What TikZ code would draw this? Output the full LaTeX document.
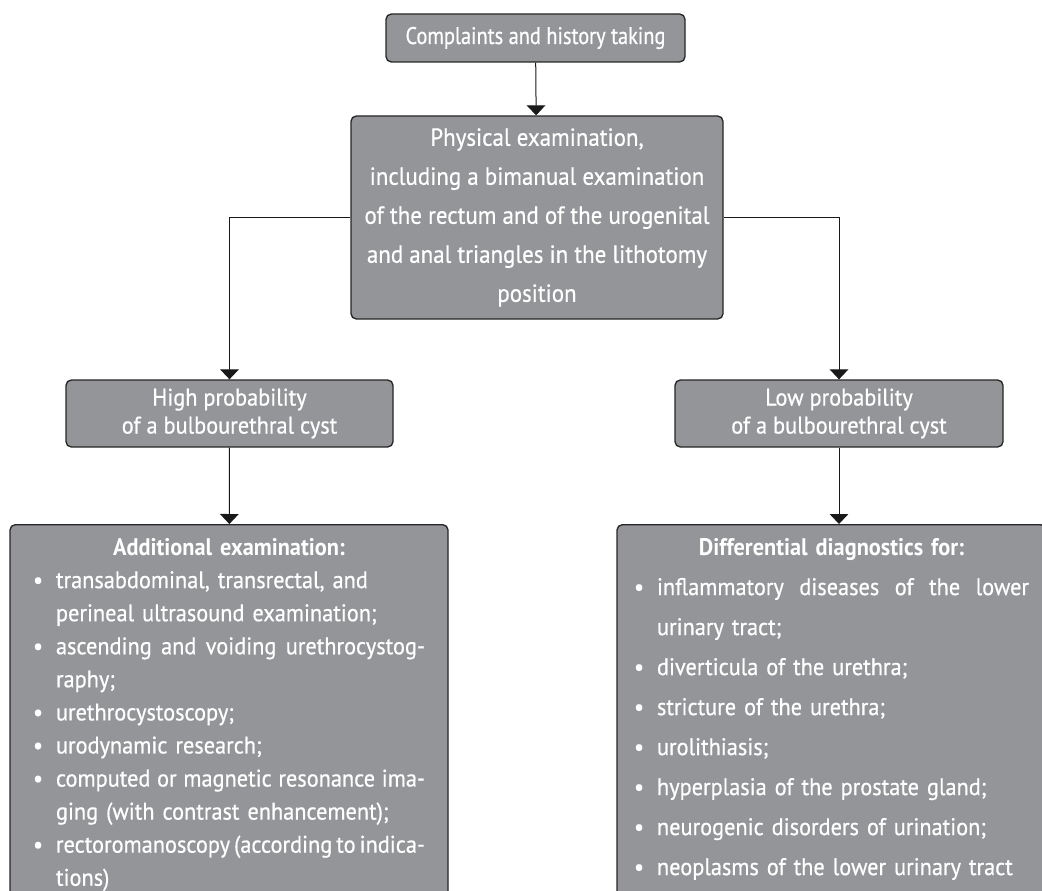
\documentclass[tikz,border=0pt]{standalone}
\usepackage{fontspec}
\setmainfont[FakeStretch=0.93, UprightFeatures={FakeBold=0.6}]{PT Sans}
\newfontfamily\condensed[FakeStretch=0.85, FakeBold=0.6]{PT Sans}
\usetikzlibrary{arrows.meta}

\definecolor{boxgray}{HTML}{939598}
\newlength{\px}
\setlength{\px}{0.75pt}
\newcommand{\itm}[1]{\makebox[23\px][l]{\textbullet}\mbox{#1}}
\newcommand{\cnt}[1]{\hspace*{23\px}#1}
\newcommand{\jst}[2]{\makebox[#1\px][s]{\spaceskip=\fontdimen2\font plus 1fil minus 2pt #2}}

\begin{document}
\begin{tikzpicture}[x=0.75pt, y=-0.75pt, >={Triangle[width=14pt,length=7.5pt]},
  box/.style={draw=black!85, fill=boxgray, rounded corners=4pt, line width=1pt,
    text=white, align=center, inner sep=0pt, font=\fontsize{18}{21}\selectfont},
  listbox/.style={box, anchor=north, align=left, inner ysep=10pt, text depth=400pt},
  link/.style={->, line width=0.75pt, black!90}]

\useasboundingbox (0,0) rectangle (1042,891);
\clip (0,0) rectangle (1042,891);

\node[box, minimum width=299\px, minimum height=48\px, font=\condensed\fontsize{18}{21}\selectfont]
  (history) at (535.5,38) {Complaints and history taking};

\node[box, minimum width=372\px, minimum height=203\px, font=\fontsize{18.5}{29.25}\selectfont]
  (physical) at (537,217.5)
  {Physical examination,\\ including a bimanual examination\\ of the rectum and of the urogenital\\
   and anal triangles in the lithotomy\\ position};

\node[box, minimum width=327\px, minimum height=67\px] (high) at (229.5,413.5)
  {High probability\\ of a bulbourethral cyst};
\node[box, minimum width=328\px, minimum height=67\px] (low) at (839,413.5)
  {Low probability\\ of a bulbourethral cyst};

% additional examination
\node[listbox, minimum width=438\px, text width=392\px, font=\fontsize{18}{24.8}\selectfont]
  (additional) at (229,524)
  {\makebox[392\px]{\bfseries Additional examination:}\\
   \itm{transabdominal, transrectal, and}\\
   \cnt{perineal ultrasound examination;}\\
   \itm{\jst{369}{ascending and voiding urethrocystog-}}\\
   \cnt{raphy;}\\
   \itm{urethrocystoscopy;}\\
   \itm{urodynamic research;}\\
   \itm{\jst{369}{computed or magnetic resonance ima-}}\\
   \cnt{ging (with contrast enhancement);}\\
   \itm{\jst{369}{rectoromanoscopy (according to indica-}}\\
   \cnt{tions)}};

% differential diagnostics
\node[listbox, minimum width=429\px, text width=395\px, font=\fontsize{18}{30}\selectfont]
  (differential) at (831.5,524)
  {\makebox[395\px]{\bfseries Differential diagnostics for:}\\
   \itm{\jst{372}{inflammatory diseases of the lower}}\\
   \cnt{urinary tract;}\\
   \itm{diverticula of the urethra;}\\
   \itm{stricture of the urethra;}\\
   \itm{urolithiasis;}\\
   \itm{hyperplasia of the prostate gland;}\\
   \itm{neurogenic disorders of urination;}\\
   \itm{neoplasms of the lower urinary tract}};

\draw[link] (history) -- (physical);
\draw[link] (physical.west) -| (high.north);
\draw[link] (physical.east) -| (low.north);
\draw[link] (high) -- (additional);
\draw[link] (low) -- (low |- differential.north);

\end{tikzpicture}
\end{document}
